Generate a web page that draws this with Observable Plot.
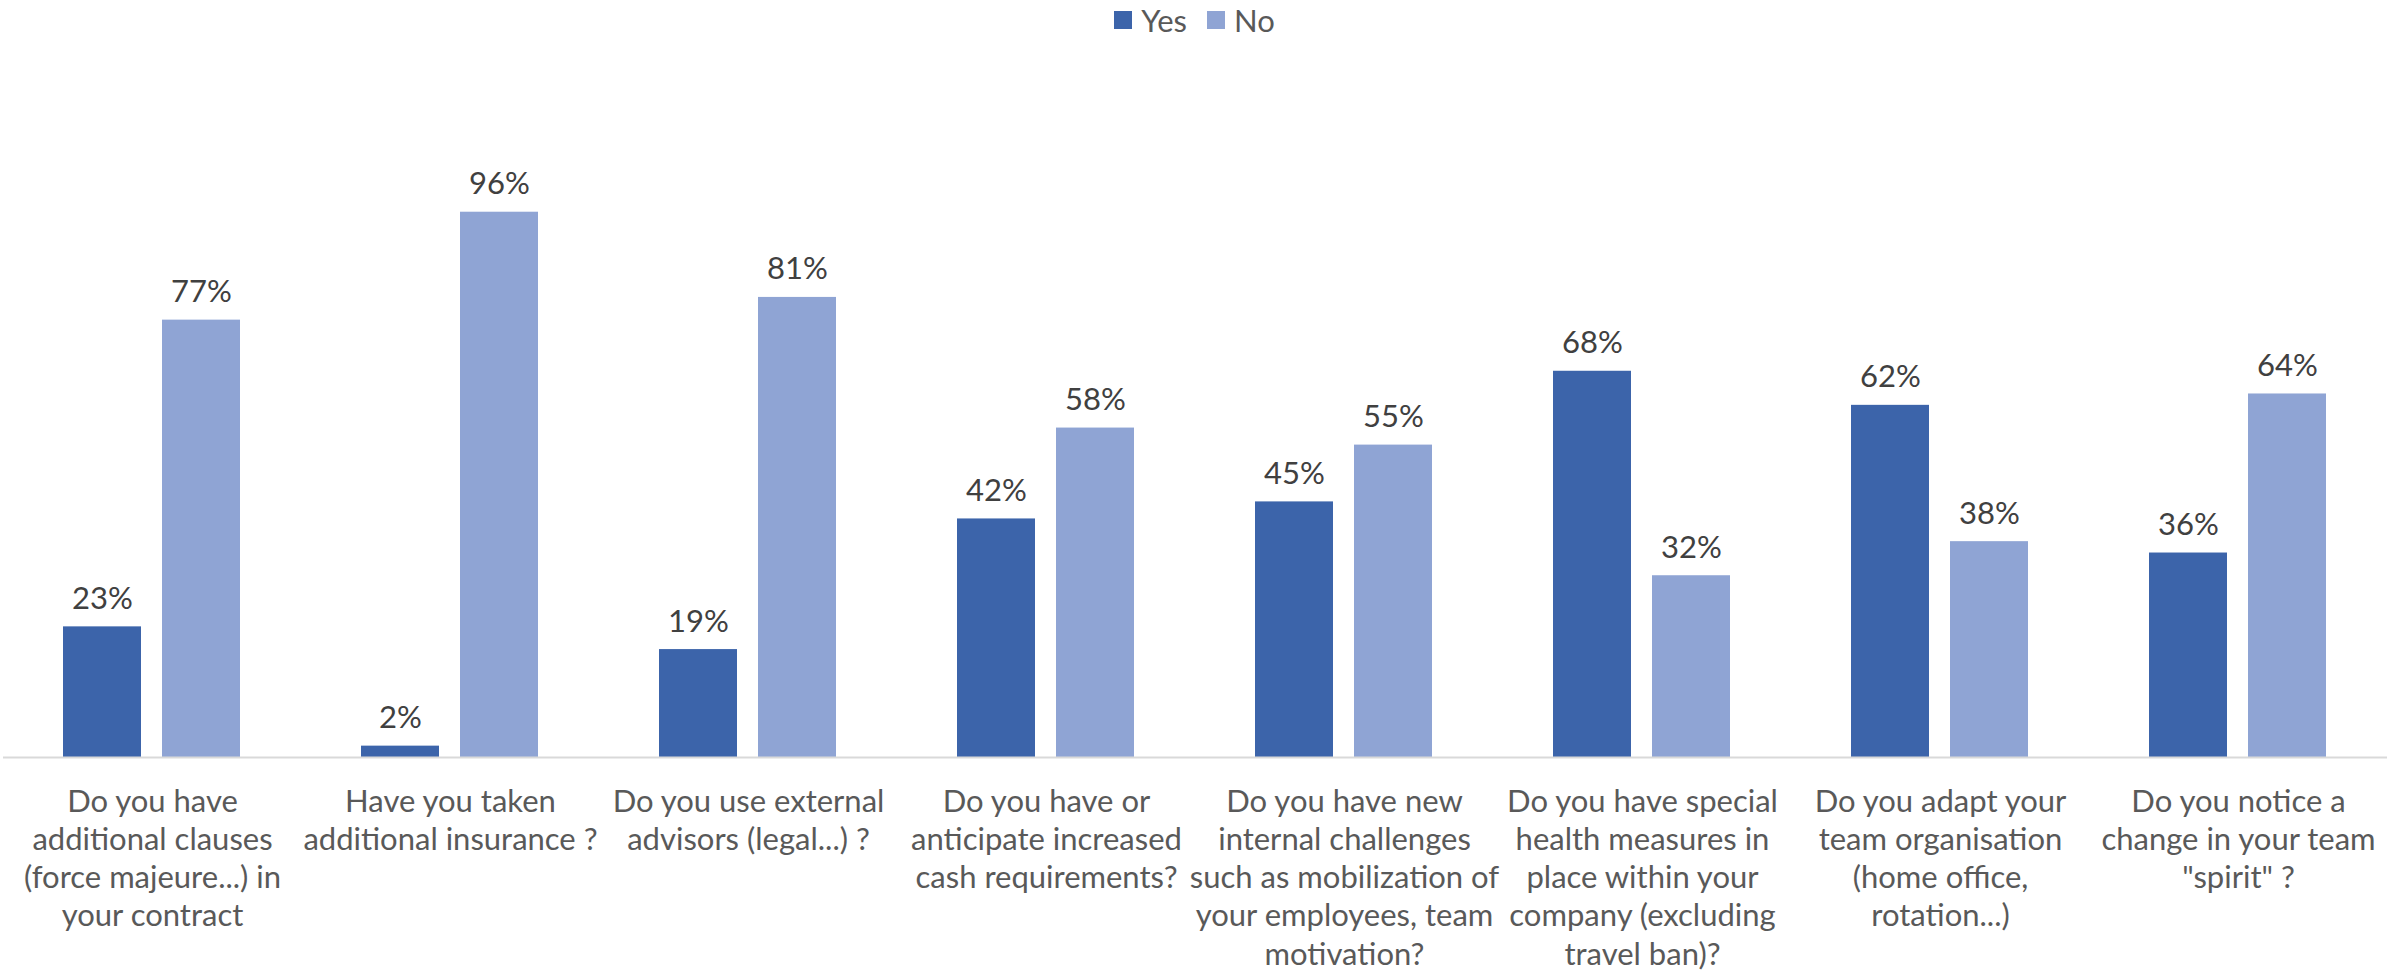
<!DOCTYPE html>
<html>
<head>
<meta charset="utf-8">
<script src="https://cdn.jsdelivr.net/npm/d3@7"></script>
<script src="https://cdn.jsdelivr.net/npm/@observablehq/plot@0.6"></script>
<style>
  body { margin: 0; background: #fff; font-family: Lato, "Open Sans", sans-serif; }
  #legend { height: 40px; display: flex; justify-content: center; align-items: center; font-size: 31px; color: #595959; }
  .item { display: flex; align-items: center; margin: 0 10px; }
  .sw { width: 18px; height: 18px; margin-right: 9px; display: inline-block; }
  #chart svg { display: block; }
</style>
</head>
<body>
<div id="legend"></div>
<div id="chart"></div>
<script>
const categories = [
  "Do you have\nadditional clauses\n(force majeure...) in\nyour contract",
  "Have you taken\nadditional insurance ?",
  "Do you use external\nadvisors (legal...) ?",
  "Do you have or\nanticipate increased\ncash requirements?",
  "Do you have new\ninternal challenges\nsuch as mobilization of\nyour employees, team\nmotivation?",
  "Do you have special\nhealth measures in\nplace within your\ncompany (excluding\ntravel ban)?",
  "Do you adapt your\nteam organisation\n(home office,\nrotation...)",
  "Do you notice a\nchange in your team\n\"spirit\" ?"
];
const series = ["Yes", "No"];
const yesValues = [23, 2, 19, 42, 45, 68, 62, 36];
const noValues = [77, 96, 81, 58, 55, 32, 38, 64];
const colors = ["#3C64AA", "#8FA4D4"];

const data = categories.flatMap((c, i) => [
  {category: c, series: "Yes", value: yesValues[i]},
  {category: c, series: "No", value: noValues[i]}
]);

// legend
const legend = document.getElementById("legend");
series.forEach((s, i) => {
  const item = document.createElement("div");
  item.className = "item";
  const sw = document.createElement("span");
  sw.className = "sw";
  sw.style.background = colors[i];
  const label = document.createElement("span");
  label.textContent = s;
  item.appendChild(sw);
  item.appendChild(label);
  legend.appendChild(item);
});

const chart = Plot.plot({
  width: 2389,
  height: 933,
  marginTop: 149,
  marginBottom: 216,
  marginLeft: 0,
  marginRight: 0,
  style: {fontFamily: "Lato, 'Open Sans', sans-serif", background: "white", fontSize: "31px"},
  fx: {domain: categories, padding: 0, label: null},
  x: {domain: series, paddingInner: 0.21, paddingOuter: 0.598, axis: null},
  y: {domain: [0, 100], axis: null},
  color: {domain: series, range: colors},
  marks: [
    Plot.barY(data, {fx: "category", x: "series", y: "value", fill: "series"}),
    Plot.ruleY([0], {stroke: "#d9d9d9", strokeWidth: 2}),
    Plot.text(data, {fx: "category", x: "series", y: "value", text: d => d.value + "%", dy: -18, lineAnchor: "bottom", fontSize: 31, fill: "#404040"}),
    Plot.axisFx({anchor: "bottom", tickSize: 0, tickPadding: 27, fontSize: 31, lineHeight: 1.234, color: "#595959", label: null})
  ]
});
document.getElementById("chart").appendChild(chart);
</script>
</body>
</html>
